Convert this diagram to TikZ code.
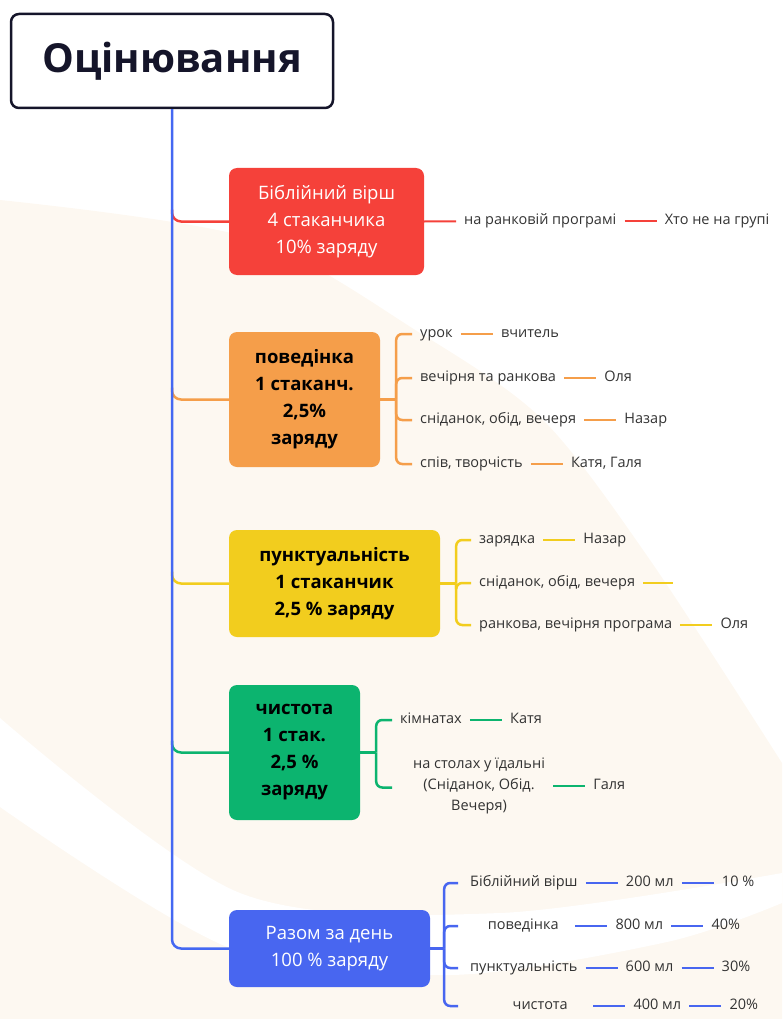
\documentclass[tikz,border=0pt]{standalone}
\usepackage{fontspec}
\setmainfont{Open Sans}
\usepackage{tikz}
\usetikzlibrary{positioning}
\usepackage{xcolor}

\definecolor{trunkblue}{HTML}{4468F2}
\definecolor{bvred}{HTML}{F5413A}
\definecolor{povorange}{HTML}{F59E4A}
\definecolor{punktyellow}{HTML}{F2CD1E}
\definecolor{chystgreen}{HTML}{0CB46F}
\definecolor{razomblue}{HTML}{4866F0}
\definecolor{titleink}{HTML}{15152A}
\definecolor{leafgray}{HTML}{333333}
\definecolor{cream}{HTML}{FDF8F1}

\newcommand{\titlefont}{\fontsize{40}{46}\selectfont\bfseries}
\newcommand{\boxfont}{\fontsize{18.5}{27}\selectfont}
\newcommand{\leaffont}{\fontsize{14.5}{21}\selectfont}

\begin{document}
\begin{tikzpicture} %
		[
			x=1pt, y=-1pt,
			every text node part/.style={align=center}, % multi-line boxes
			titlebox/.style={
				draw=titleink,
				line width=2.5pt,
				fill=white,
				rounded corners=8pt,
				minimum width=322pt,
				minimum height=94pt,
				text=titleink,
				font=\titlefont,
			},
			box/.style={
				rounded corners=8pt,
				inner sep=0pt,
				font=\boxfont,
			},
			leaf/.style={font=\leaffont, text=leafgray, inner sep=0pt, text height=10.5pt, text depth=3pt},
			leafnote/.style={font=\leaffont, text=leafgray, inner sep=0pt},
			trunk/.style={draw=trunkblue, line width=2.5pt, rounded corners=9pt},
			branch/.style={line width=2.5pt, rounded corners=9pt},
			brace/.style={line width=2.5pt, rounded corners=6pt},
			tie/.style={line width=2pt, shorten <=8pt, shorten >=8pt},
			node distance=48pt,
		]
		\clip (0,0) rectangle (782,1019);
		\useasboundingbox (0,0) rectangle (782,1019);

		% background swoosh
		\fill[cream] plot[smooth] coordinates {(0,200) (250,238) (420,333) (543,420) (650,560) (782,763)}
			-- (782,1019) -- (0,1019) -- cycle;
		\fill[white] plot[smooth] coordinates {(0,718) (240,893) (500,913) (782,873)}
			-- plot[smooth] coordinates {(782,903) (667,942) (450,975) (230,948) (0,807)} -- cycle;

		\node[titlebox] (title) at (172,61) {Оцінювання};

		\node[box, fill=bvred, text=white, minimum width=195pt, minimum height=107pt] (bv) at (326.5,221.5)
			{Біблійний вірш\\4 стаканчика\\10\% заряду};
		\node[box, fill=povorange, text=black, font=\boxfont\bfseries, minimum width=151pt, minimum height=135pt] (pov) at (304.5,399.5)
			{поведінка\\1 стаканч.\\2,5\%\\заряду};
		\node[box, fill=punktyellow, text=black, font=\boxfont\bfseries, minimum width=211pt, minimum height=107pt] (punkt) at (334.5,583.5)
			{пунктуальність\\1 стаканчик\\2,5 \% заряду};
		\node[box, fill=chystgreen, text=black, font=\boxfont\bfseries, minimum width=131pt, minimum height=135pt] (chyst) at (294.5,752.5)
			{чистота\\1 стак.\\2,5 \%\\заряду};
		\node[box, fill=razomblue, text=white, minimum width=201pt, minimum height=77pt] (razom) at (329.5,948.5)
			{Разом за день\\100 \% заряду};

		% branches off the trunk
		\draw[branch, bvred] (title.south |- bv.west) ++(0,-12) |- (bv.west);
		\draw[branch, povorange] (title.south |- pov.west) ++(0,-12) |- (pov.west);
		\draw[branch, punktyellow] (title.south |- punkt.west) ++(0,-12) |- (punkt.west);
		\draw[branch, chystgreen] (title.south |- chyst.west) ++(0,-12) |- (chyst.west);
		\draw[trunk] (title.south) |- (razom.west);

		% Біблійний вірш
		\node[leaf, anchor=west] (bv1) at (464,221) {на ранковій програмі};
		\node[leaf, right =of bv1] (bv2) {Хто не на групі};
		\draw[tie, bvred, shorten <=0pt] (bv.east) -- (bv1);
		\draw[tie, bvred] (bv1) -- (bv2);

		% поведінка
		\coordinate[right =16pt of pov.east] (povj);
		\node[leaf, anchor=west] (pov1) at (420,334) {урок};
		\node[leaf, right =of pov1] (pov1b) {вчитель};
		\node[leaf, anchor=west] (pov2) at (420,378) {вечірня та ранкова};
		\node[leaf, right =of pov2] (pov2b) {Оля};
		\node[leaf, anchor=west] (pov3) at (420,420) {сніданок, обід, вечеря};
		\node[leaf, right =of pov3] (pov3b) {Назар};
		\node[leaf, anchor=west] (pov4) at (420,464) {спів, творчість};
		\node[leaf, right =of pov4] (pov4b) {Катя, Галя};
		\draw[brace, povorange] (pov.east) -- (povj);
		\foreach \n in {1,...,4}{
			\draw[brace, povorange, shorten >=8pt] (povj) |- (pov\n.west);
			\draw[tie, povorange] (pov\n) -- (pov\n b);
		}

		% пунктуальність
		\coordinate[right =16pt of punkt.east] (punktj);
		\node[leaf, anchor=west] (punkt1) at (479,540) {зарядка};
		\node[leaf, right =of punkt1] (punkt1b) {Назар};
		\node[leaf, anchor=west] (punkt2) at (479,583) {сніданок, обід, вечеря};
		\coordinate[right =38pt of punkt2.east] (punkt2b);
		\node[leaf, anchor=west] (punkt3) at (479,625) {ранкова, вечірня програма};
		\node[leaf, right =of punkt3] (punkt3b) {Оля};
		\draw[brace, punktyellow] (punkt.east) -- (punktj);
		\foreach \n in {1,2,3}
			\draw[brace, punktyellow, shorten >=8pt] (punktj) |- (punkt\n.west);
		\draw[tie, punktyellow] (punkt1) -- (punkt1b);
		\draw[tie, punktyellow, shorten >=0pt] (punkt2) -- (punkt2b);
		\draw[tie, punktyellow] (punkt3) -- (punkt3b);

		% чистота
		\coordinate[right =16pt of chyst.east] (chystj);
		\node[leaf, anchor=west] (chyst1) at (400,720) {кімнатах};
		\node[leaf, right =of chyst1] (chyst1b) {Катя};
		\node[leafnote] (chyst2) at (479,786) {на столах у їдальні\\(Сніданок, Обід.\\Вечеря)};
		\node[leaf, right =of chyst2] (chyst2b) {Галя};
		\draw[brace, chystgreen] (chyst.east) -- (chystj);
		\draw[brace, chystgreen] (chystj) |- ([xshift=-8pt]chyst1.west);
		\draw[brace, chystgreen] (chystj) |- ++(16,35) coordinate (chyst2j);
		\draw[tie, chystgreen] (chyst1) -- (chyst1b);
		\draw[tie, chystgreen] (chyst2) -- (chyst2b);

		% Разом за день
		\coordinate[right =14pt of razom.east] (razomj);
		\coordinate[right =28pt of razom.east] (razomk);
		\node[leaf, anchor=west] (razom1) at (470,883) {Біблійний вірш};
		\node[leaf, right =of razom1] (razom1b) {200 мл};
		\node[leaf, right =of razom1b] (razom1c) {10 \%};
		\node[leaf, anchor=west, text width=88pt, align=left] (razom2) at (479,926) {поведінка};
		\node[leaf, right =of razom2] (razom2b) {800 мл};
		\node[leaf, right =of razom2b] (razom2c) {40\%};
		\node[leaf, anchor=west] (razom3) at (470,968) {пунктуальність};
		\node[leaf, right =of razom3] (razom3b) {600 мл};
		\node[leaf, right =of razom3b] (razom3c) {30\%};
		\node[leaf, anchor=west, text width=90pt, align=left] (razom4) at (495,1006) {чистота};
		\node[leaf, right =of razom4] (razom4b) {400 мл};
		\node[leaf, right =of razom4b] (razom4c) {20\%};
		\draw[brace, razomblue] (razom.east) -- (razomj);
		\foreach \n in {1,...,4}{
			\draw[brace, razomblue] (razomj) |- (razomk |- razom\n.west);
			\draw[tie, razomblue] (razom\n) -- (razom\n b);
			\draw[tie, razomblue] (razom\n b) -- (razom\n c);
		}
	\end{tikzpicture}
\end{document}
